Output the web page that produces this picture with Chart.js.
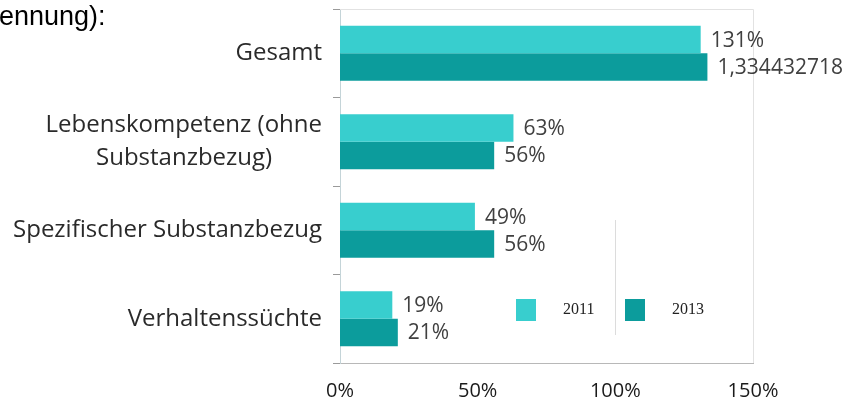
<!DOCTYPE html>
<html>
<head>
<meta charset="utf-8">
<script src="https://cdn.jsdelivr.net/npm/chart.js@4.4.1/dist/chart.umd.min.js"></script>
<style>
html, body { margin: 0; padding: 0; background: #fff; }
#wrap { position: relative; width: 843px; height: 405px; }
#note { position: absolute; left: -1px; top: 3px; font: 27px "Liberation Sans", Arial, sans-serif; line-height: 26px; color: #000; }
</style>
</head>
<body>
<div id="wrap">
  <canvas id="myChart" width="843" height="405"></canvas>
  <div id="note">ennung):</div>
</div>
<script>
// data
const categories = [
  'Gesamt',
  ['Lebenskompetenz (ohne', 'Substanzbezug)'],
  'Spezifischer Substanzbezug',
  'Verhaltenssüchte'
];
const years = ['2011', '2013'];
const values2011 = [131, 63, 49, 19];
const values2013 = [133.4432718, 56, 56, 21];
const labels2011 = ['131%', '63%', '49%', '19%'];
const labels2013 = ['1,334432718', '56%', '56%', '21%'];
const xTicks = [0, 50, 100, 150];

const color2011 = '#38cece';
const color2013 = '#0c9c9c';
const catFont = '24px "Open Sans"';

// centre the lines of a two-line label (right aligned by chart.js, so pad with spaces)
const mctx = document.createElement('canvas').getContext('2d');
mctx.font = catFont;
function centerLines(lbl) {
  if (!Array.isArray(lbl)) return lbl;
  const widths = lbl.map(s => mctx.measureText(s).width);
  const max = Math.max(...widths);
  const sp = mctx.measureText('\u00A0').width;
  return lbl.map((s, i) => s + '\u00A0'.repeat(Math.round((max - widths[i]) / 2 / sp)));
}

const ctx = document.getElementById('myChart');

const decor = {
  id: 'decor',
  beforeDatasetsDraw(chart) {
    const { ctx, chartArea: a } = chart;
    ctx.save();
    ctx.strokeStyle = '#e2e2e2';
    ctx.lineWidth = 1;
    ctx.beginPath();
    ctx.moveTo(a.left, a.top + 0.5);
    ctx.lineTo(a.right + 0.5, a.top + 0.5);
    ctx.lineTo(a.right + 0.5, a.bottom);
    ctx.stroke();
    ctx.restore();
  },
  afterDatasetsDraw(chart) {
    const { ctx } = chart;
    const texts = [labels2011, labels2013];
    ctx.save();
    ctx.font = '21px "Open Sans"';
    ctx.fillStyle = '#404040';
    ctx.textBaseline = 'middle';
    ctx.textAlign = 'left';
    chart.data.datasets.forEach((ds, di) => {
      chart.getDatasetMeta(di).data.forEach((bar, i) => {
        ctx.fillText(texts[di][i], bar.x + 10, bar.y + 1);
      });
    });
    ctx.restore();
  },
  afterDraw(chart) {
    // legend in lower right of plot
    const { ctx, chartArea: a } = chart;
    const items = [
      { text: years[0], color: color2011, x: a.left + 176 },
      { text: years[1], color: color2013, x: a.left + 285 }
    ];
    ctx.save();
    ctx.strokeStyle = '#dcdcdc';
    ctx.lineWidth = 1;
    ctx.beginPath();
    ctx.moveTo(a.left + 275.5, a.top + 211);
    ctx.lineTo(a.left + 275.5, a.top + 326);
    ctx.stroke();
    ctx.font = '16px "Liberation Serif"';
    ctx.textBaseline = 'middle';
    items.forEach(it => {
      ctx.fillStyle = it.color;
      ctx.fillRect(it.x, a.top + 290, 20, 22);
      ctx.fillStyle = '#222';
      ctx.fillText(it.text, it.x + 47, a.top + 301);
    });
    ctx.restore();
  }
};

let graphdata = {
  type: 'bar',
  data: {
    labels: categories,
    datasets: [
      { label: years[0], data: values2011, backgroundColor: color2011 },
      { label: years[1], data: values2013, backgroundColor: color2013 }
    ]
  },
  options: {
    indexAxis: 'y',
    responsive: false,
    animation: false,
    datasets: { bar: { categoryPercentage: 0.62, barPercentage: 1.0 } },
    layout: { padding: { top: 9, right: 90, left: 0, bottom: 0 } },
    plugins: { legend: { display: false }, tooltip: { enabled: false } },
    scales: {
      x: {
        min: 0, max: 150,
        afterBuildTicks(scale) { scale.ticks = xTicks.map(v => ({ value: v })); },
        afterFit(scale) { scale.height = 42; scale.paddingLeft = 0; scale.paddingRight = 0; },
        grid: { display: false, drawTicks: false },
        border: { display: true, color: '#b8b8b8' },
        ticks: {
          padding: 16,
          color: '#1a1a1a',
          font: { family: 'Open Sans', size: 20 },
          callback: v => v + '%'
        }
      },
      y: {
        afterFit(scale) { scale.width = 340; scale.paddingTop = 0; scale.paddingBottom = 0; },
        grid: { offset: true, drawOnChartArea: false, tickLength: 7, color: '#9a9a9a' },
        border: { display: true, color: '#c4d4d8' },
        ticks: {
          padding: 11,
          color: '#2a2a2a',
          font: { family: 'Open Sans', size: 24, lineHeight: 1.4 },
          callback: function (v, i) { return centerLines(categories[i]); }
        }
      }
    }
  },
  plugins: [decor]
};

let mychart = new Chart(ctx, graphdata);
</script>
</body>
</html>
